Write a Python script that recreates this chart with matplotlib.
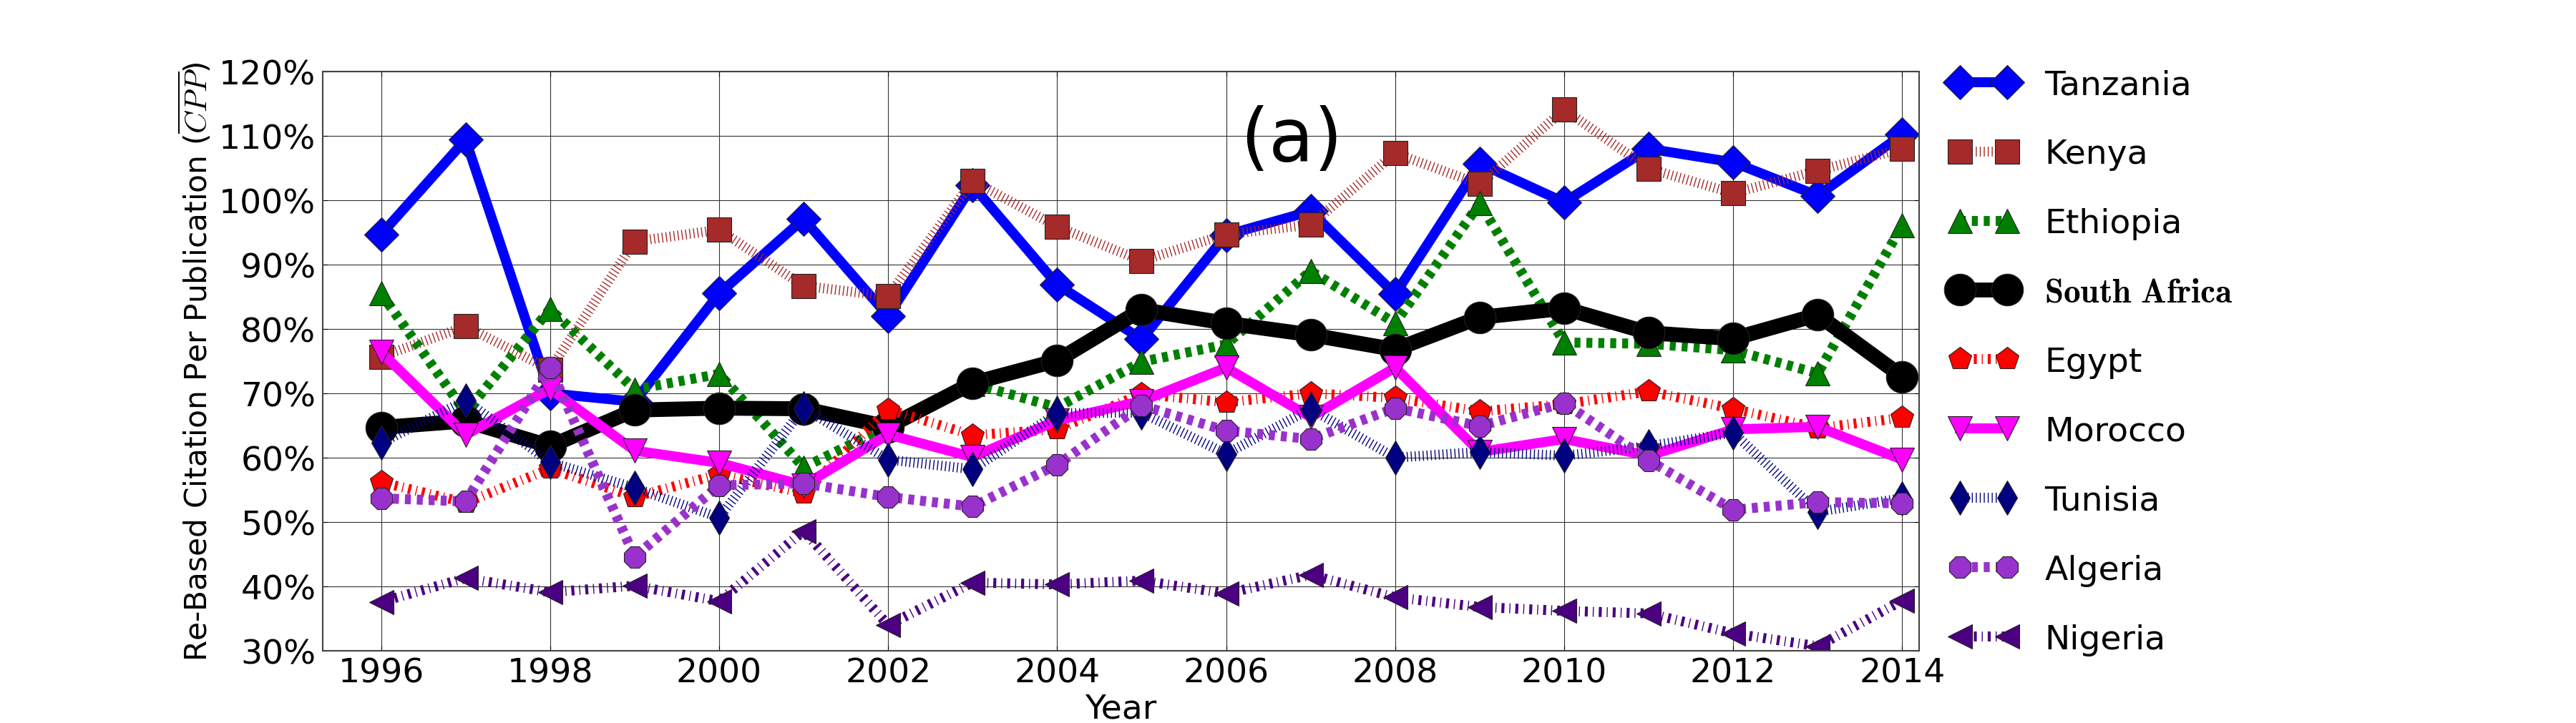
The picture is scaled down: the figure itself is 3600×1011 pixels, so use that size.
import matplotlib
matplotlib.use("Agg")
import matplotlib.pyplot as plt
from matplotlib.ticker import FuncFormatter, MultipleLocator

plt.rcParams['font.family'] = ['DejaVu Sans']
plt.rcParams['mathtext.fontset'] = 'cm'
plt.rcParams['lines.scale_dashes'] = False

years = list(range(1996, 2015))

tanzania = [94.7, 109.4, 70.0, 68.7, 85.5, 97.1, 82.0, 102.3, 86.9, 78.4,
            94.6, 98.3, 85.4, 105.7, 99.7, 108.0, 105.9, 100.7, 110.2]
kenya = [75.7, 80.4, 73.7, 93.6, 95.4, 86.7, 85.1, 103.0, 95.9, 90.6,
         94.7, 96.2, 107.3, 102.5, 114.1, 104.9, 101.1, 104.6, 108.0]
ethiopia = [85.5, 67.0, 83.1, 70.6, 73.0, 58.5, 64.9, 71.5, 67.8, 74.9,
            77.6, 89.0, 80.9, 99.5, 77.9, 77.7, 76.7, 73.1, 96.1]
south_africa = [64.7, 65.7, 61.8, 67.4, 67.7, 67.6, 64.8, 71.6, 75.1, 83.0,
                80.9, 79.1, 76.8, 81.8, 83.2, 79.4, 78.5, 82.2, 72.6]
egypt = [56.2, 53.0, 58.3, 53.9, 57.4, 54.5, 67.5, 63.5, 64.4, 69.9,
         68.6, 70.0, 69.3, 67.2, 68.3, 70.3, 67.6, 64.6, 66.2]
morocco = [76.4, 63.6, 70.7, 61.1, 59.2, 55.7, 63.6, 60.1, 65.8, 68.8,
           74.0, 66.3, 74.0, 60.9, 62.9, 60.3, 64.4, 64.8, 59.7]
tunisia = [62.3, 68.9, 59.3, 55.3, 50.7, 67.7, 59.7, 58.2, 66.9, 67.0,
           60.6, 67.6, 60.0, 60.9, 60.3, 61.8, 63.9, 51.6, 53.7]
algeria = [53.7, 53.2, 74.0, 44.6, 55.7, 56.0, 53.9, 52.4, 58.9, 68.1,
           64.2, 62.9, 67.7, 64.9, 68.5, 59.6, 51.9, 53.1, 52.9]
nigeria = [37.6, 41.3, 39.1, 40.1, 37.7, 48.6, 34.0, 40.6, 40.3, 40.9,
           38.9, 41.8, 38.3, 36.8, 36.2, 35.8, 32.7, 30.7, 37.8]

labels = ['Tanzania', 'Kenya', 'Ethiopia', r'$\mathbf{South\ Africa}$', 'Egypt',
          'Morocco', 'Tunisia', 'Algeria', 'Nigeria']
series = [tanzania, kenya, ethiopia, south_africa, egypt, morocco, tunisia,
          algeria, nigeria]

DOT = (0, (1, 3))
DASH = (0, (6, 6))
DASHDOT = (0, (3, 5, 1, 5))
styles = [
    dict(color='blue', marker='D', ls='-', lw=10, ms=24),
    dict(color='brown', marker='s', ls=DOT, lw=10, ms=24),
    dict(color='green', marker='^', ls=DASH, lw=10, ms=24),
    dict(color='black', marker='o', ls='-', lw=15, ms=32),
    dict(color='red', marker='p', ls=DASHDOT, lw=10, ms=24),
    dict(color='magenta', marker='v', ls='-', lw=10, ms=24),
    dict(color='navy', marker='d', ls=DOT, lw=10, ms=24),
    dict(color='darkorchid', marker='8', ls=DASH, lw=10, ms=24),
    dict(color='indigo', marker='<', ls=DASHDOT, lw=10, ms=24),
]

fig = plt.figure(figsize=(36, 10.12), dpi=100)
ax = fig.add_axes([0.1253, 0.0998, 0.6197, 0.8004])

for lab, vals, st in zip(labels, series, styles):
    ax.plot(years, vals, label=lab, color=st['color'], marker=st['marker'],
            linestyle=st['ls'], linewidth=st['lw'], markersize=st['ms'],
            markeredgecolor='#222222', markeredgewidth=0.8)

ax.set_xlim(1995.31, 2014.2)
ax.set_ylim(30, 120)
ax.xaxis.set_major_locator(MultipleLocator(2))
ax.yaxis.set_major_locator(MultipleLocator(10))
ax.yaxis.set_major_formatter(FuncFormatter(lambda v, p: f"{v:.0f}%"))
ax.grid(True, color='#333333', linewidth=0.8, linestyle='-')
ax.set_axisbelow(True)
ax.tick_params(axis='both', which='major', labelsize=34, direction='in',
               length=5, right=True, top=True)
ax.tick_params(axis='y', pad=7)
ax.tick_params(axis='x', pad=6)
for sp in ax.spines.values():
    sp.set_color('#444444')
    sp.set_linewidth(1.5)

ax.set_xlabel('Year', fontsize=34, labelpad=4)
ax.set_ylabel(r'Re-Based Citation Per Publication ($\overline{CPP}$)', fontsize=30.5,
              labelpad=5)

ax.text(2006.77, 109.3, '(a)', ha='center', va='center', fontsize=74)

leg = fig.legend(loc='upper left', bbox_to_anchor=(0.757, 0.904), frameon=False,
                 fontsize=34, numpoints=2, handlelength=2.0, handletextpad=0.8,
                 labelspacing=1.1, borderpad=0, borderaxespad=0)

fig.savefig('out.png', dpi=100)
